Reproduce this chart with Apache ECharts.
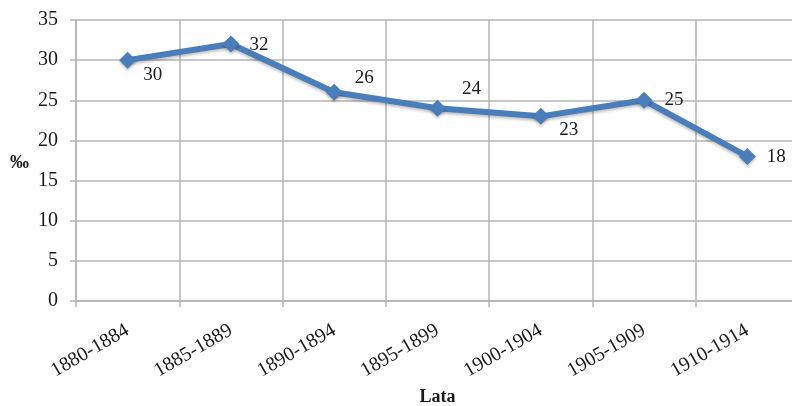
<!DOCTYPE html>
<html>
<head>
<meta charset="utf-8">
<script src="https://cdn.jsdelivr.net/npm/echarts@6/dist/echarts.min.js"></script>
<style>
  html, body { margin: 0; padding: 0; background: #fff; }
  #chart { width: 792px; height: 406px; }
</style>
</head>
<body>
<div id="chart"></div>
<script>
// Period categories and rate (per mille)
var periods = ['1880-1884', '1885-1889', '1890-1894', '1895-1899', '1900-1904', '1905-1909', '1910-1914'];
var rates = [30, 32, 26, 24, 23, 25, 18];

// Value-axis range
var yMin = 0;
var yMax = 35;
var yStep = 5;

// Label nudges (px) for each point, relative to the right side of its marker
var labelNudges = [[7, 15], [10, 1], [12, -14], [16, -19], [10, 14], [12, 0], [11, 1]];

var serif = '"Liberation Serif", "DejaVu Serif", serif';
var gridColor = '#b4b4b4';
var lineColor = '#4a7ebb';
var textColor = '#1a1a1a';

var chart = echarts.init(document.getElementById('chart'), null, { renderer: 'canvas' });

var points = rates.map(function (v, i) {
  return {
    value: v,
    label: { offset: labelNudges[i] }
  };
});

chart.setOption({
  animation: false,
  backgroundColor: '#ffffff',
  // plot runs past the right edge of the canvas
  grid: { left: 76, width: 723, top: 20, height: 281, containLabel: false, outerBoundsMode: 'none' },
  xAxis: {
    type: 'category',
    data: periods,
    boundaryGap: true,
    name: 'Lata',
    nameLocation: 'middle',
    nameGap: 87,
    nameTextStyle: { fontFamily: serif, fontSize: 18, fontWeight: 'bold', color: textColor },
    axisLine: { show: true, lineStyle: { color: gridColor, width: 1.5 } },
    axisTick: { show: true, length: 6, alignWithLabel: false, lineStyle: { color: gridColor, width: 1.5 } },
    axisLabel: { rotate: 30, margin: 28, fontFamily: serif, fontSize: 20, color: textColor, interval: 0 },
    splitLine: { show: true, lineStyle: { color: gridColor, width: 1.5 } }
  },
  yAxis: {
    type: 'value',
    min: yMin,
    max: yMax,
    interval: yStep,
    name: '‰',
    nameLocation: 'middle',
    nameRotate: 0,
    nameGap: 47,
    nameTextStyle: { fontFamily: serif, fontSize: 19, fontWeight: 'bold', color: textColor, verticalAlign: 'top', lineHeight: 6 },
    axisLine: { show: true, lineStyle: { color: gridColor, width: 1.5 } },
    axisTick: { show: true, length: 6, lineStyle: { color: gridColor, width: 1.5 } },
    axisLabel: { margin: 18, fontFamily: serif, fontSize: 20, color: textColor },
    splitLine: { show: true, lineStyle: { color: gridColor, width: 1.5 } }
  },
  series: [{
    type: 'line',
    data: points,
    symbol: 'diamond',
    symbolSize: 17,
    lineStyle: { color: lineColor, width: 6, shadowColor: 'rgba(0,0,0,0.25)', shadowBlur: 3, shadowOffsetY: 2 },
    itemStyle: { color: lineColor, shadowColor: 'rgba(0,0,0,0.25)', shadowBlur: 3, shadowOffsetY: 2 },
    label: {
      show: true,
      position: 'right',
      distance: 0,
      fontFamily: serif,
      fontSize: 19,
      color: textColor
    }
  }]
});
</script>
</body>
</html>
